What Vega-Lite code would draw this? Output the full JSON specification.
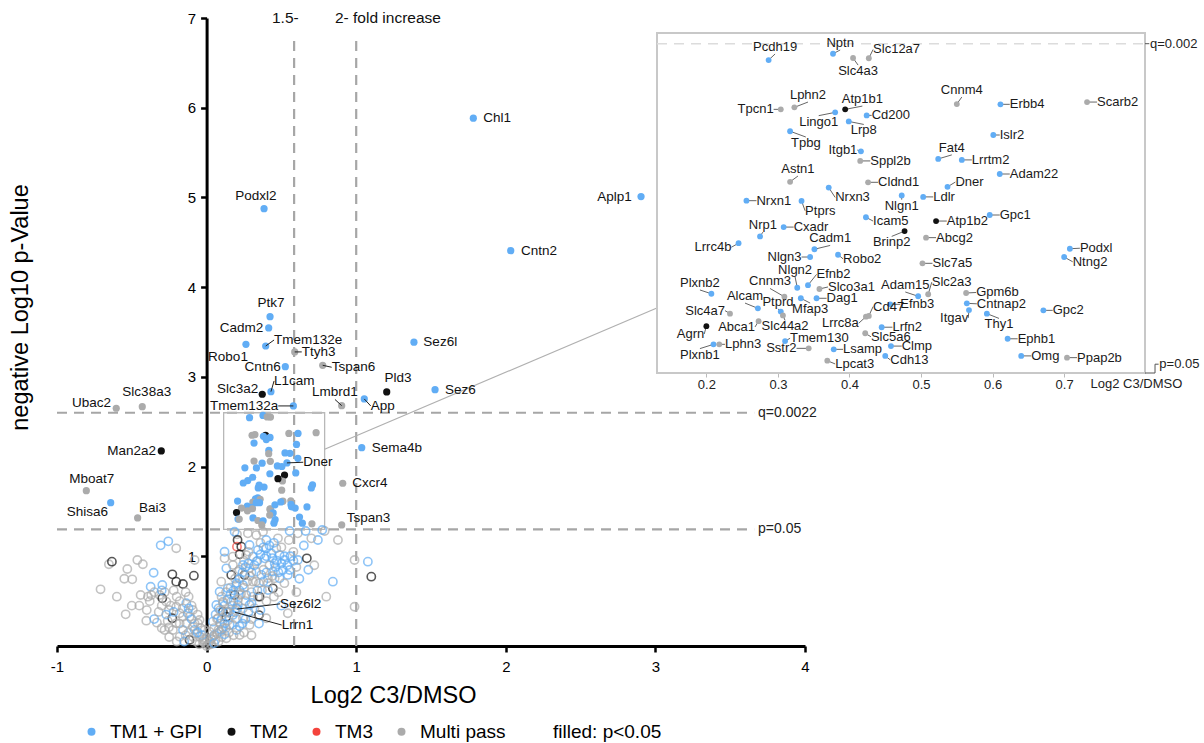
{
"$schema":"https://vega.github.io/schema/vega-lite/v6.json",
"autosize":"none","width":748,"height":628,
"padding":{"left":57,"top":18,"right":399,"bottom":97},
"background":"white",
"config":{"view":{"stroke":null},"font":"Liberation Sans","axis":{"grid":false}},
"datasets":{"genes":[
{"g":"Chl1","x":1.783,"y":5.883,"t":"TM1 + GPI","sig":true,"mlx":1.850,"mly":5.883},
{"g":"Aplp1","x":2.904,"y":5.009,"t":"TM1 + GPI","sig":true,"mlx":2.842,"mly":5.009},
{"g":"Podxl2","x":0.384,"y":4.875,"t":"TM1 + GPI","sig":true,"mlx":0.330,"mly":4.939},
{"g":"Cntn2","x":2.033,"y":4.407,"t":"TM1 + GPI","sig":true,"mlx":2.102,"mly":4.407},
{"g":"Ptk7","x":0.424,"y":3.671,"t":"TM1 + GPI","sig":true,"mlx":0.430,"mly":3.746},
{"g":"Cadm2","x":0.415,"y":3.545,"t":"TM1 + GPI","sig":true,"mlx":0.379,"mly":3.545},
{"g":"Sez6l","x":1.386,"y":3.386,"t":"TM1 + GPI","sig":true,"mlx":1.449,"mly":3.386},
{"g":"Robo1","x":0.263,"y":3.363,"t":"TM1 + GPI","sig":true,"mlx":0.143,"mly":3.294},
{"g":"Tmem132e","x":0.395,"y":3.344,"t":"TM1 + GPI","sig":true,"mlx":0.451,"mly":3.411},
{"g":"Ttyh3","x":0.589,"y":3.278,"t":"Multi pass","sig":true,"mlx":0.636,"mly":3.278},
{"g":"Cntn6","x":0.526,"y":3.114,"t":"TM1 + GPI","sig":true,"mlx":0.495,"mly":3.114},
{"g":"Tspan6","x":0.776,"y":3.129,"t":"Multi pass","sig":true,"mlx":0.836,"mly":3.107},
{"g":"Slc3a2","x":0.372,"y":2.806,"t":"TM2","sig":true,"mlx":0.346,"mly":2.862},
{"g":"L1cam","x":0.430,"y":2.835,"t":"TM1 + GPI","sig":true,"mlx":0.451,"mly":2.954},
{"g":"Tmem132a","x":0.580,"y":2.676,"t":"TM1 + GPI","sig":true,"mlx":0.479,"mly":2.676},
{"g":"Lmbrd1","x":0.903,"y":2.679,"t":"Multi pass","sig":true,"mlx":0.858,"mly":2.748},
{"g":"App","x":1.054,"y":2.754,"t":"TM1 + GPI","sig":true,"mlx":1.097,"mly":2.676},
{"g":"Pld3","x":1.204,"y":2.832,"t":"TM2","sig":true,"mlx":1.279,"mly":2.904},
{"g":"Sez6","x":1.527,"y":2.857,"t":"TM1 + GPI","sig":true,"mlx":1.594,"mly":2.857},
{"g":"Ubac2","x":-0.604,"y":2.650,"t":"Multi pass","sig":true,"mlx":-0.639,"mly":2.712},
{"g":"Slc38a3","x":-0.430,"y":2.668,"t":"Multi pass","sig":true,"mlx":-0.400,"mly":2.754},
{"g":"Sema4b","x":1.037,"y":2.211,"t":"TM1 + GPI","sig":true,"mlx":1.104,"mly":2.211},
{"g":"Man2a2","x":-0.303,"y":2.174,"t":"TM2","sig":true,"mlx":-0.338,"mly":2.174},
{"g":"Cxcr4","x":0.910,"y":1.814,"t":"Multi pass","sig":true,"mlx":0.974,"mly":1.814},
{"g":"Mboat7","x":-0.804,"y":1.731,"t":"Multi pass","sig":true,"mlx":-0.768,"mly":1.789},
{"g":"Shisa6","x":-0.641,"y":1.598,"t":"TM1 + GPI","sig":true,"mlx":-0.659,"mly":1.494},
{"g":"Bai3","x":-0.461,"y":1.427,"t":"Multi pass","sig":true,"mlx":-0.452,"mly":1.533},
{"g":"Tspan3","x":0.903,"y":1.349,"t":"Multi pass","sig":true,"mlx":0.937,"mly":1.424},
{"g":"Pcdh19","x":0.287,"y":2.545,"t":"TM1 + GPI","sig":true,"ilx":0.296,"ily":2.569},
{"g":"Nptn","x":0.377,"y":2.570,"t":"TM1 + GPI","sig":true,"ilx":0.387,"ily":2.585},
{"g":"Slc4a3","x":0.405,"y":2.553,"t":"Multi pass","sig":true,"ilx":0.412,"ily":2.525},
{"g":"Slc12a7","x":0.427,"y":2.552,"t":"Multi pass","sig":true,"ilx":0.433,"ily":2.587},
{"g":"Lphn2","x":0.323,"y":2.357,"t":"Multi pass","sig":true,"ilx":0.342,"ily":2.378},
{"g":"Tpcn1","x":0.304,"y":2.349,"t":"Multi pass","sig":true,"ilx":0.294,"ily":2.349},
{"g":"Atp1b1","x":0.394,"y":2.349,"t":"TM2","sig":true,"ilx":0.418,"ily":2.362},
{"g":"Lingo1","x":0.380,"y":2.337,"t":"TM1 + GPI","sig":true,"ilx":0.357,"ily":2.324},
{"g":"Cd200","x":0.424,"y":2.325,"t":"TM1 + GPI","sig":true,"ilx":0.431,"ily":2.325},
{"g":"Lrp8","x":0.399,"y":2.301,"t":"TM1 + GPI","sig":true,"ilx":0.420,"ily":2.289},
{"g":"Tpbg","x":0.317,"y":2.262,"t":"TM1 + GPI","sig":true,"ilx":0.339,"ily":2.239},
{"g":"Itgb1","x":0.416,"y":2.182,"t":"TM1 + GPI","sig":true,"ilx":0.411,"ily":2.187},
{"g":"Sppl2b","x":0.415,"y":2.144,"t":"Multi pass","sig":true,"ilx":0.429,"ily":2.144},
{"g":"Astn1","x":0.317,"y":2.061,"t":"Multi pass","sig":true,"ilx":0.328,"ily":2.084},
{"g":"Cldnd1","x":0.426,"y":2.059,"t":"Multi pass","sig":true,"ilx":0.440,"ily":2.059},
{"g":"Nrxn1","x":0.256,"y":1.986,"t":"TM1 + GPI","sig":true,"ilx":0.270,"ily":1.986},
{"g":"Nrxn3","x":0.371,"y":2.038,"t":"TM1 + GPI","sig":true,"ilx":0.380,"ily":1.999},
{"g":"Ptprs","x":0.333,"y":1.985,"t":"TM1 + GPI","sig":true,"ilx":0.338,"ily":1.946},
{"g":"Nlgn1","x":0.473,"y":2.007,"t":"TM1 + GPI","sig":true,"ilx":0.473,"ily":1.990},
{"g":"Ldlr","x":0.503,"y":2.001,"t":"TM1 + GPI","sig":true,"ilx":0.517,"ily":2.001},
{"g":"Icam5","x":0.423,"y":1.920,"t":"TM1 + GPI","sig":true,"ilx":0.433,"ily":1.905},
{"g":"Cnnm4","x":0.550,"y":2.370,"t":"Multi pass","sig":true,"ilx":0.557,"ily":2.398},
{"g":"Erbb4","x":0.611,"y":2.369,"t":"TM1 + GPI","sig":true,"ilx":0.624,"ily":2.369},
{"g":"Scarb2","x":0.732,"y":2.378,"t":"Multi pass","sig":true,"ilx":0.746,"ily":2.378},
{"g":"Islr2","x":0.601,"y":2.247,"t":"TM1 + GPI","sig":true,"ilx":0.610,"ily":2.247},
{"g":"Fat4","x":0.524,"y":2.152,"t":"TM1 + GPI","sig":true,"ilx":0.543,"ily":2.168},
{"g":"Lrrtm2","x":0.557,"y":2.148,"t":"TM1 + GPI","sig":true,"ilx":0.571,"ily":2.148},
{"g":"Adam22","x":0.610,"y":2.092,"t":"TM1 + GPI","sig":true,"ilx":0.624,"ily":2.092},
{"g":"Dner","x":0.537,"y":2.041,"t":"TM1 + GPI","sig":true,"ilx":0.548,"ily":2.060,"mlx":0.646,"mly":2.048},
{"g":"Gpc1","x":0.596,"y":1.929,"t":"TM1 + GPI","sig":true,"ilx":0.610,"ily":1.929},
{"g":"Atp1b2","x":0.521,"y":1.905,"t":"TM2","sig":true,"ilx":0.536,"ily":1.905},
{"g":"Abcg2","x":0.507,"y":1.839,"t":"Multi pass","sig":true,"ilx":0.521,"ily":1.839},
{"g":"Podxl","x":0.708,"y":1.795,"t":"TM1 + GPI","sig":true,"ilx":0.722,"ily":1.797},
{"g":"Ntng2","x":0.700,"y":1.762,"t":"TM1 + GPI","sig":true,"ilx":0.712,"ily":1.743},
{"g":"Slc7a5","x":0.502,"y":1.737,"t":"Multi pass","sig":true,"ilx":0.516,"ily":1.737},
{"g":"Slc2a3","x":0.510,"y":1.614,"t":"Multi pass","sig":true,"ilx":0.515,"ily":1.662},
{"g":"Gpm6b","x":0.563,"y":1.619,"t":"Multi pass","sig":true,"ilx":0.577,"ily":1.621},
{"g":"Cntnap2","x":0.564,"y":1.578,"t":"TM1 + GPI","sig":true,"ilx":0.578,"ily":1.576},
{"g":"Itgav","x":0.567,"y":1.551,"t":"TM1 + GPI","sig":true,"ilx":0.566,"ily":1.520},
{"g":"Thy1","x":0.592,"y":1.537,"t":"TM1 + GPI","sig":true,"ilx":0.609,"ily":1.518},
{"g":"Gpc2","x":0.671,"y":1.550,"t":"TM1 + GPI","sig":true,"ilx":0.684,"ily":1.550},
{"g":"Ephb1","x":0.621,"y":1.437,"t":"TM1 + GPI","sig":true,"ilx":0.635,"ily":1.437},
{"g":"Omg","x":0.640,"y":1.369,"t":"TM1 + GPI","sig":true,"ilx":0.654,"ily":1.369},
{"g":"Ppap2b","x":0.704,"y":1.362,"t":"Multi pass","sig":true,"ilx":0.718,"ily":1.362},
{"g":"Nrp1","x":0.275,"y":1.844,"t":"TM1 + GPI","sig":true,"ilx":0.279,"ily":1.861},
{"g":"Cxadr","x":0.308,"y":1.881,"t":"TM1 + GPI","sig":true,"ilx":0.322,"ily":1.881},
{"g":"Lrrc4b","x":0.245,"y":1.817,"t":"TM1 + GPI","sig":true,"ilx":0.235,"ily":1.801},
{"g":"Cadm1","x":0.351,"y":1.793,"t":"TM1 + GPI","sig":true,"ilx":0.373,"ily":1.808},
{"g":"Brinp2","x":0.477,"y":1.865,"t":"TM2","sig":true,"ilx":0.459,"ily":1.844},
{"g":"Robo2","x":0.384,"y":1.771,"t":"TM1 + GPI","sig":true,"ilx":0.391,"ily":1.755},
{"g":"Nlgn3","x":0.345,"y":1.762,"t":"TM1 + GPI","sig":true,"ilx":0.333,"ily":1.762},
{"g":"Nlgn2","x":0.327,"y":1.640,"t":"TM1 + GPI","sig":true,"ilx":0.324,"ily":1.683},
{"g":"Efnb2","x":0.342,"y":1.650,"t":"TM1 + GPI","sig":true,"ilx":0.354,"ily":1.693},
{"g":"Cnnm3","x":0.309,"y":1.604,"t":"Multi pass","sig":true,"ilx":0.289,"ily":1.637},
{"g":"Slco3a1","x":0.358,"y":1.635,"t":"Multi pass","sig":true,"ilx":0.370,"ily":1.643},
{"g":"Plxnb2","x":0.207,"y":1.616,"t":"TM1 + GPI","sig":true,"ilx":0.191,"ily":1.631},
{"g":"Alcam","x":0.272,"y":1.558,"t":"TM1 + GPI","sig":true,"ilx":0.254,"ily":1.579},
{"g":"Ptprd","x":0.304,"y":1.545,"t":"TM1 + GPI","sig":true,"ilx":0.300,"ily":1.556},
{"g":"Slc44a2","x":0.307,"y":1.530,"t":"Multi pass","sig":true,"ilx":0.310,"ily":1.510},
{"g":"Abca1","x":0.273,"y":1.507,"t":"Multi pass","sig":true,"ilx":0.268,"ily":1.484},
{"g":"Dag1","x":0.354,"y":1.598,"t":"TM1 + GPI","sig":true,"ilx":0.368,"ily":1.598},
{"g":"Mfap3","x":0.332,"y":1.598,"t":"TM1 + GPI","sig":true,"ilx":0.345,"ily":1.579},
{"g":"Slc4a7","x":0.233,"y":1.537,"t":"Multi pass","sig":true,"ilx":0.226,"ily":1.549},
{"g":"Agrn","x":0.200,"y":1.487,"t":"TM2","sig":true,"ilx":0.197,"ily":1.456},
{"g":"Lrrc8a","x":0.423,"y":1.525,"t":"Multi pass","sig":true,"ilx":0.413,"ily":1.499},
{"g":"Cd47","x":0.427,"y":1.528,"t":"Multi pass","sig":true,"ilx":0.433,"ily":1.565},
{"g":"Adam15","x":0.496,"y":1.606,"t":"TM1 + GPI","sig":true,"ilx":0.478,"ily":1.623},
{"g":"Efnb3","x":0.457,"y":1.574,"t":"TM1 + GPI","sig":true,"ilx":0.471,"ily":1.574},
{"g":"Lrfn2","x":0.445,"y":1.483,"t":"TM1 + GPI","sig":true,"ilx":0.460,"ily":1.483},
{"g":"Slc5a6","x":0.422,"y":1.459,"t":"Multi pass","sig":true,"ilx":0.430,"ily":1.445},
{"g":"Plxnb1","x":0.210,"y":1.415,"t":"TM1 + GPI","sig":true,"ilx":0.191,"ily":1.398},
{"g":"Lphn3","x":0.218,"y":1.415,"t":"Multi pass","sig":true,"ilx":0.226,"ily":1.415},
{"g":"Tmem130","x":0.310,"y":1.428,"t":"TM1 + GPI","sig":true,"ilx":0.317,"ily":1.439},
{"g":"Sstr2","x":0.343,"y":1.399,"t":"Multi pass","sig":true,"ilx":0.326,"ily":1.399},
{"g":"Lsamp","x":0.378,"y":1.395,"t":"TM1 + GPI","sig":true,"ilx":0.391,"ily":1.395},
{"g":"Clmp","x":0.458,"y":1.408,"t":"TM1 + GPI","sig":true,"ilx":0.473,"ily":1.408},
{"g":"Cdh13","x":0.450,"y":1.369,"t":"TM1 + GPI","sig":true,"ilx":0.457,"ily":1.353},
{"g":"Lpcat3","x":0.369,"y":1.350,"t":"Multi pass","sig":true,"ilx":0.380,"ily":1.337},
{"g":"Sez6l2","x":0.205,"y":0.412,"t":"TM1 + GPI","sig":false,"mlx":0.491,"mly":0.470},
{"g":"Lrrn1","x":0.190,"y":0.376,"t":"TM1 + GPI","sig":false,"mlx":0.502,"mly":0.234},
{"x":-0.307,"y":1.122,"t":"TM1 + GPI","sig":false},
{"x":-0.256,"y":1.167,"t":"TM1 + GPI","sig":false},
{"x":-0.203,"y":1.089,"t":"Multi pass","sig":false},
{"x":-0.463,"y":0.959,"t":"Multi pass","sig":false},
{"x":-0.426,"y":0.911,"t":"Multi pass","sig":false},
{"x":-0.653,"y":0.911,"t":"Multi pass","sig":false},
{"x":-0.633,"y":0.940,"t":"TM2","sig":false},
{"x":-0.530,"y":0.858,"t":"Multi pass","sig":false},
{"x":-0.354,"y":0.817,"t":"TM1 + GPI","sig":false},
{"x":-0.497,"y":0.743,"t":"Multi pass","sig":false},
{"x":-0.374,"y":0.661,"t":"TM1 + GPI","sig":false},
{"x":-0.296,"y":0.680,"t":"TM1 + GPI","sig":false},
{"x":-0.229,"y":0.799,"t":"TM2","sig":false},
{"x":-0.203,"y":0.717,"t":"TM2","sig":false},
{"x":-0.158,"y":0.691,"t":"TM2","sig":false},
{"x":-0.085,"y":0.784,"t":"TM2","sig":false},
{"x":-0.080,"y":0.959,"t":"Multi pass","sig":false},
{"x":-0.709,"y":0.632,"t":"Multi pass","sig":false},
{"x":-0.441,"y":0.569,"t":"Multi pass","sig":false},
{"x":-0.392,"y":0.550,"t":"Multi pass","sig":false},
{"x":-0.370,"y":0.569,"t":"Multi pass","sig":false},
{"x":-0.314,"y":0.569,"t":"Multi pass","sig":false},
{"x":-0.296,"y":0.532,"t":"TM2","sig":false},
{"x":-0.269,"y":0.494,"t":"Multi pass","sig":false},
{"x":-0.541,"y":0.353,"t":"Multi pass","sig":false},
{"x":-0.403,"y":0.282,"t":"Multi pass","sig":false},
{"x":-0.332,"y":0.260,"t":"Multi pass","sig":false},
{"x":-0.252,"y":0.401,"t":"Multi pass","sig":false},
{"x":-0.252,"y":0.208,"t":"Multi pass","sig":false},
{"x":-0.229,"y":0.309,"t":"TM2","sig":false},
{"x":-0.203,"y":0.253,"t":"Multi pass","sig":false},
{"x":-0.203,"y":0.438,"t":"Multi pass","sig":false},
{"x":-0.180,"y":0.365,"t":"Multi pass","sig":false},
{"x":-0.136,"y":0.476,"t":"TM1 + GPI","sig":false},
{"x":-0.125,"y":0.365,"t":"TM1 + GPI","sig":false},
{"x":-0.158,"y":0.327,"t":"Multi pass","sig":false},
{"x":-0.114,"y":0.327,"t":"Multi pass","sig":false},
{"x":-0.092,"y":0.401,"t":"Multi pass","sig":false},
{"x":-0.180,"y":0.104,"t":"Multi pass","sig":false},
{"x":-0.158,"y":0.178,"t":"TM1 + GPI","sig":false},
{"x":-0.114,"y":0.067,"t":"TM2","sig":false},
{"x":-0.092,"y":0.215,"t":"Multi pass","sig":false},
{"x":-0.069,"y":0.142,"t":"Multi pass","sig":false},
{"x":-0.058,"y":0.253,"t":"Multi pass","sig":false},
{"x":-0.047,"y":0.104,"t":"Multi pass","sig":false},
{"x":-0.025,"y":0.048,"t":"Multi pass","sig":false},
{"x":-0.136,"y":0.253,"t":"Multi pass","sig":false},
{"x":-0.225,"y":0.178,"t":"Multi pass","sig":false},
{"x":-0.281,"y":0.178,"t":"Multi pass","sig":false},
{"x":-0.047,"y":0.290,"t":"Multi pass","sig":false},
{"x":-0.013,"y":0.178,"t":"Multi pass","sig":false},
{"x":-0.35,"y":0.60,"t":"Multi pass","sig":false},
{"x":-0.30,"y":0.45,"t":"Multi pass","sig":false},
{"x":-0.27,"y":0.35,"t":"TM1 + GPI","sig":false},
{"x":-0.20,"y":0.55,"t":"Multi pass","sig":false},
{"x":-0.16,"y":0.42,"t":"Multi pass","sig":false},
{"x":-0.12,"y":0.55,"t":"Multi pass","sig":false},
{"x":-0.10,"y":0.30,"t":"TM1 + GPI","sig":false},
{"x":-0.08,"y":0.18,"t":"TM1 + GPI","sig":false},
{"x":-0.06,"y":0.35,"t":"Multi pass","sig":false},
{"x":-0.04,"y":0.20,"t":"Multi pass","sig":false},
{"x":-0.03,"y":0.12,"t":"TM1 + GPI","sig":false},
{"x":-0.02,"y":0.07,"t":"Multi pass","sig":false},
{"x":-0.01,"y":0.03,"t":"Multi pass","sig":false},
{"x":-0.40,"y":0.40,"t":"Multi pass","sig":false},
{"x":-0.45,"y":0.45,"t":"Multi pass","sig":false},
{"x":-0.35,"y":0.30,"t":"TM1 + GPI","sig":false},
{"x":-0.30,"y":0.20,"t":"Multi pass","sig":false},
{"x":-0.25,"y":0.10,"t":"Multi pass","sig":false},
{"x":-0.20,"y":0.05,"t":"Multi pass","sig":false},
{"x":-0.15,"y":0.05,"t":"TM1 + GPI","sig":false},
{"x":-0.12,"y":0.15,"t":"Multi pass","sig":false},
{"x":-0.09,"y":0.10,"t":"Multi pass","sig":false},
{"x":-0.07,"y":0.05,"t":"Multi pass","sig":false},
{"x":-0.05,"y":0.02,"t":"Multi pass","sig":false},
{"x":-0.60,"y":0.55,"t":"Multi pass","sig":false},
{"x":-0.55,"y":0.75,"t":"Multi pass","sig":false},
{"x":-0.50,"y":0.45,"t":"Multi pass","sig":false},
{"x":-0.28,"y":0.60,"t":"Multi pass","sig":false},
{"x":-0.24,"y":0.45,"t":"Multi pass","sig":false},
{"x":-0.22,"y":0.62,"t":"Multi pass","sig":false},
{"x":-0.18,"y":0.50,"t":"Multi pass","sig":false},
{"x":-0.14,"y":0.60,"t":"Multi pass","sig":false},
{"x":-0.10,"y":0.45,"t":"Multi pass","sig":false},
{"x":-0.18,"y":0.25,"t":"Multi pass","sig":false},
{"x":-0.14,"y":0.12,"t":"Multi pass","sig":false},
{"x":-0.08,"y":0.25,"t":"Multi pass","sig":false},
{"x":-0.32,"y":0.38,"t":"Multi pass","sig":false},
{"x":-0.38,"y":0.50,"t":"Multi pass","sig":false},
{"x":-0.26,"y":0.28,"t":"Multi pass","sig":false},
{"x":-0.22,"y":0.38,"t":"TM1 + GPI","sig":false},
{"x":-0.12,"y":0.42,"t":"TM1 + GPI","sig":false},
{"x":-0.06,"y":0.15,"t":"TM1 + GPI","sig":false},
{"x":-0.30,"y":0.62,"t":"TM1 + GPI","sig":false},
{"x":0.203,"y":1.245,"t":"Multi pass","sig":false},
{"x":0.276,"y":1.256,"t":"Multi pass","sig":false},
{"x":0.332,"y":1.237,"t":"Multi pass","sig":false},
{"x":0.377,"y":1.274,"t":"Multi pass","sig":false},
{"x":0.187,"y":1.274,"t":"TM1 + GPI","sig":false},
{"x":0.399,"y":1.182,"t":"TM1 + GPI","sig":false},
{"x":0.477,"y":1.200,"t":"Multi pass","sig":false},
{"x":0.555,"y":1.282,"t":"TM1 + GPI","sig":false},
{"x":0.610,"y":1.256,"t":"Multi pass","sig":false},
{"x":0.662,"y":1.282,"t":"TM1 + GPI","sig":false},
{"x":0.789,"y":1.282,"t":"Multi pass","sig":false},
{"x":0.744,"y":1.182,"t":"TM1 + GPI","sig":false},
{"x":0.878,"y":1.182,"t":"Multi pass","sig":false},
{"x":0.773,"y":1.293,"t":"TM1 + GPI","sig":false},
{"x":0.207,"y":1.182,"t":"TM2","sig":false},
{"x":0.203,"y":1.107,"t":"TM3","sig":false},
{"x":0.232,"y":1.107,"t":"TM2","sig":false},
{"x":0.221,"y":1.022,"t":"TM2","sig":false},
{"x":0.287,"y":1.126,"t":"TM1 + GPI","sig":false},
{"x":0.343,"y":1.070,"t":"TM1 + GPI","sig":false},
{"x":0.399,"y":1.089,"t":"TM1 + GPI","sig":false},
{"x":0.466,"y":1.089,"t":"Multi pass","sig":false},
{"x":0.432,"y":1.033,"t":"TM1 + GPI","sig":false},
{"x":0.488,"y":1.014,"t":"TM1 + GPI","sig":false},
{"x":0.521,"y":0.959,"t":"TM1 + GPI","sig":false},
{"x":0.610,"y":0.959,"t":"TM1 + GPI","sig":false},
{"x":0.670,"y":0.977,"t":"TM2","sig":false},
{"x":0.989,"y":0.959,"t":"Multi pass","sig":false},
{"x":1.078,"y":0.940,"t":"TM1 + GPI","sig":false},
{"x":1.101,"y":0.773,"t":"TM2","sig":false},
{"x":0.844,"y":0.717,"t":"TM1 + GPI","sig":false},
{"x":0.989,"y":0.438,"t":"Multi pass","sig":false},
{"x":0.800,"y":0.550,"t":"Multi pass","sig":false},
{"x":0.543,"y":0.365,"t":"Multi pass","sig":false},
{"x":0.510,"y":0.847,"t":"TM1 + GPI","sig":false},
{"x":0.455,"y":0.755,"t":"Multi pass","sig":false},
{"x":0.488,"y":0.755,"t":"TM1 + GPI","sig":false},
{"x":0.410,"y":0.755,"t":"Multi pass","sig":false},
{"x":0.555,"y":0.847,"t":"TM1 + GPI","sig":false},
{"x":0.443,"y":0.643,"t":"TM2","sig":false},
{"x":0.410,"y":0.624,"t":"TM1 + GPI","sig":false},
{"x":0.343,"y":0.550,"t":"Multi pass","sig":false},
{"x":0.310,"y":0.550,"t":"Multi pass","sig":false},
{"x":0.354,"y":0.550,"t":"TM2","sig":false},
{"x":0.350,"y":0.345,"t":"TM2","sig":false},
{"x":0.221,"y":0.123,"t":"Multi pass","sig":false},
{"x":0.176,"y":0.234,"t":"Multi pass","sig":false},
{"x":0.199,"y":0.178,"t":"TM1 + GPI","sig":false},
{"x":0.287,"y":0.234,"t":"Multi pass","sig":false},
{"x":0.399,"y":0.309,"t":"Multi pass","sig":false},
{"x":0.243,"y":0.420,"t":"Multi pass","sig":false},
{"x":0.287,"y":0.457,"t":"TM1 + GPI","sig":false},
{"x":0.109,"y":0.382,"t":"TM2","sig":false},
{"x":0.132,"y":0.327,"t":"TM2","sig":false},
{"x":0.165,"y":0.792,"t":"TM2","sig":false},
{"x":0.187,"y":0.569,"t":"TM2","sig":false},
{"x":0.254,"y":0.792,"t":"TM2","sig":false},
{"x":0.120,"y":0.977,"t":"Multi pass","sig":false},
{"x":0.132,"y":0.866,"t":"TM1 + GPI","sig":false},
{"x":0.176,"y":0.903,"t":"Multi pass","sig":false},
{"x":0.209,"y":0.829,"t":"Multi pass","sig":false},
{"x":0.243,"y":0.903,"t":"TM1 + GPI","sig":false},
{"x":0.287,"y":0.866,"t":"Multi pass","sig":false},
{"x":0.332,"y":0.829,"t":"Multi pass","sig":false},
{"x":0.366,"y":0.792,"t":"TM1 + GPI","sig":false},
{"x":0.310,"y":0.717,"t":"Multi pass","sig":false},
{"x":0.243,"y":0.680,"t":"TM1 + GPI","sig":false},
{"x":0.199,"y":0.680,"t":"Multi pass","sig":false},
{"x":0.142,"y":0.643,"t":"TM1 + GPI","sig":false},
{"x":0.098,"y":0.717,"t":"Multi pass","sig":false},
{"x":0.087,"y":0.605,"t":"TM1 + GPI","sig":false},
{"x":0.221,"y":0.569,"t":"Multi pass","sig":false},
{"x":0.265,"y":0.569,"t":"TM1 + GPI","sig":false},
{"x":0.165,"y":0.494,"t":"Multi pass","sig":false},
{"x":0.209,"y":0.457,"t":"TM1 + GPI","sig":false},
{"x":0.109,"y":0.494,"t":"Multi pass","sig":false},
{"x":0.065,"y":0.457,"t":"TM1 + GPI","sig":false},
{"x":0.076,"y":0.309,"t":"Multi pass","sig":false},
{"x":0.042,"y":0.271,"t":"TM1 + GPI","sig":false},
{"x":0.142,"y":0.382,"t":"Multi pass","sig":false},
{"x":0.176,"y":0.345,"t":"TM1 + GPI","sig":false},
{"x":0.243,"y":0.309,"t":"Multi pass","sig":false},
{"x":0.154,"y":0.234,"t":"TM1 + GPI","sig":false},
{"x":0.087,"y":0.159,"t":"Multi pass","sig":false},
{"x":0.020,"y":0.159,"t":"Multi pass","sig":false},
{"x":-0.002,"y":0.086,"t":"Multi pass","sig":false},
{"x":0.053,"y":0.123,"t":"TM1 + GPI","sig":false},
{"x":0.132,"y":0.086,"t":"Multi pass","sig":false},
{"x":0.332,"y":0.940,"t":"Multi pass","sig":false},
{"x":0.455,"y":0.922,"t":"TM1 + GPI","sig":false},
{"x":0.443,"y":0.829,"t":"TM1 + GPI","sig":false},
{"x":0.543,"y":0.792,"t":"TM1 + GPI","sig":false},
{"x":0.310,"y":0.996,"t":"TM1 + GPI","sig":false},
{"x":0.265,"y":1.014,"t":"Multi pass","sig":false},
{"x":0.388,"y":0.977,"t":"TM1 + GPI","sig":false},
{"x":0.176,"y":0.996,"t":"Multi pass","sig":false},
{"x":0.120,"y":1.051,"t":"TM1 + GPI","sig":false},
{"x":0.02,"y":0.05,"t":"Multi pass","sig":false},
{"x":0.04,"y":0.10,"t":"Multi pass","sig":false},
{"x":0.06,"y":0.07,"t":"Multi pass","sig":false},
{"x":0.01,"y":0.01,"t":"Multi pass","sig":false},
{"x":0.03,"y":0.02,"t":"Multi pass","sig":false},
{"x":0.00,"y":0.00,"t":"Multi pass","sig":false},
{"x":0.05,"y":0.03,"t":"TM1 + GPI","sig":false},
{"x":0.08,"y":0.05,"t":"Multi pass","sig":false},
{"x":0.10,"y":0.10,"t":"Multi pass","sig":false},
{"x":0.07,"y":0.14,"t":"Multi pass","sig":false},
{"x":0.11,"y":0.20,"t":"Multi pass","sig":false},
{"x":0.09,"y":0.25,"t":"Multi pass","sig":false},
{"x":0.12,"y":0.13,"t":"TM1 + GPI","sig":false},
{"x":0.15,"y":0.15,"t":"Multi pass","sig":false},
{"x":0.18,"y":0.12,"t":"Multi pass","sig":false},
{"x":0.14,"y":0.28,"t":"Multi pass","sig":false},
{"x":0.10,"y":0.55,"t":"Multi pass","sig":false},
{"x":0.13,"y":0.60,"t":"Multi pass","sig":false},
{"x":0.16,"y":0.65,"t":"Multi pass","sig":false},
{"x":0.19,"y":0.75,"t":"Multi pass","sig":false},
{"x":0.22,"y":0.85,"t":"Multi pass","sig":false},
{"x":0.25,"y":0.95,"t":"Multi pass","sig":false},
{"x":0.28,"y":1.05,"t":"Multi pass","sig":false},
{"x":0.30,"y":0.60,"t":"Multi pass","sig":false},
{"x":0.35,"y":0.70,"t":"Multi pass","sig":false},
{"x":0.38,"y":0.85,"t":"Multi pass","sig":false},
{"x":0.42,"y":0.90,"t":"Multi pass","sig":false},
{"x":0.47,"y":0.95,"t":"TM1 + GPI","sig":false},
{"x":0.52,"y":0.70,"t":"Multi pass","sig":false},
{"x":0.60,"y":0.88,"t":"Multi pass","sig":false},
{"x":0.62,"y":0.75,"t":"TM1 + GPI","sig":false},
{"x":0.68,"y":0.85,"t":"TM1 + GPI","sig":false},
{"x":0.72,"y":0.90,"t":"Multi pass","sig":false},
{"x":0.58,"y":1.05,"t":"Multi pass","sig":false},
{"x":0.65,"y":1.12,"t":"TM1 + GPI","sig":false},
{"x":0.70,"y":1.20,"t":"Multi pass","sig":false},
{"x":0.50,"y":1.10,"t":"Multi pass","sig":false},
{"x":0.45,"y":1.15,"t":"TM1 + GPI","sig":false},
{"x":0.55,"y":1.18,"t":"Multi pass","sig":false},
{"x":0.36,"y":1.15,"t":"Multi pass","sig":false},
{"x":0.26,"y":0.50,"t":"Multi pass","sig":false},
{"x":0.32,"y":0.42,"t":"Multi pass","sig":false},
{"x":0.30,"y":0.30,"t":"Multi pass","sig":false},
{"x":0.36,"y":0.40,"t":"TM1 + GPI","sig":false},
{"x":0.40,"y":0.50,"t":"Multi pass","sig":false},
{"x":0.45,"y":0.55,"t":"Multi pass","sig":false},
{"x":0.50,"y":0.45,"t":"TM1 + GPI","sig":false},
{"x":0.60,"y":0.60,"t":"Multi pass","sig":false},
{"x":0.20,"y":0.30,"t":"Multi pass","sig":false},
{"x":0.22,"y":0.22,"t":"TM1 + GPI","sig":false},
{"x":0.25,"y":0.15,"t":"Multi pass","sig":false},
{"x":0.30,"y":0.12,"t":"Multi pass","sig":false},
{"x":0.35,"y":0.25,"t":"TM1 + GPI","sig":false},
{"x":0.06,"y":0.35,"t":"TM1 + GPI","sig":false},
{"x":0.08,"y":0.42,"t":"TM1 + GPI","sig":false},
{"x":0.10,"y":0.30,"t":"TM1 + GPI","sig":false},
{"x":0.12,"y":0.45,"t":"TM1 + GPI","sig":false},
{"x":0.14,"y":0.52,"t":"TM1 + GPI","sig":false},
{"x":0.16,"y":0.58,"t":"TM1 + GPI","sig":false},
{"x":0.18,"y":0.62,"t":"TM1 + GPI","sig":false},
{"x":0.20,"y":0.70,"t":"TM1 + GPI","sig":false},
{"x":0.22,"y":0.75,"t":"TM1 + GPI","sig":false},
{"x":0.24,"y":0.82,"t":"TM1 + GPI","sig":false},
{"x":0.26,"y":0.88,"t":"TM1 + GPI","sig":false},
{"x":0.28,"y":0.92,"t":"TM1 + GPI","sig":false},
{"x":0.30,"y":0.82,"t":"TM1 + GPI","sig":false},
{"x":0.32,"y":0.90,"t":"TM1 + GPI","sig":false},
{"x":0.34,"y":0.95,"t":"TM1 + GPI","sig":false},
{"x":0.36,"y":1.02,"t":"TM1 + GPI","sig":false},
{"x":0.38,"y":1.10,"t":"TM1 + GPI","sig":false},
{"x":0.40,"y":1.00,"t":"TM1 + GPI","sig":false},
{"x":0.42,"y":1.12,"t":"TM1 + GPI","sig":false},
{"x":0.44,"y":0.98,"t":"TM1 + GPI","sig":false},
{"x":0.46,"y":0.88,"t":"TM1 + GPI","sig":false},
{"x":0.48,"y":0.82,"t":"TM1 + GPI","sig":false},
{"x":0.50,"y":0.92,"t":"TM1 + GPI","sig":false},
{"x":0.52,"y":1.00,"t":"TM1 + GPI","sig":false},
{"x":0.54,"y":0.90,"t":"TM1 + GPI","sig":false},
{"x":0.56,"y":1.00,"t":"TM1 + GPI","sig":false},
{"x":0.58,"y":0.95,"t":"TM1 + GPI","sig":false},
{"x":0.30,"y":0.48,"t":"TM1 + GPI","sig":false},
{"x":0.28,"y":0.38,"t":"TM1 + GPI","sig":false},
{"x":0.26,"y":0.30,"t":"TM1 + GPI","sig":false},
{"x":0.24,"y":0.25,"t":"TM1 + GPI","sig":false},
{"x":0.20,"y":0.42,"t":"TM1 + GPI","sig":false},
{"x":0.18,"y":0.50,"t":"TM1 + GPI","sig":false},
{"x":0.22,"y":0.62,"t":"TM1 + GPI","sig":false},
{"x":0.34,"y":0.62,"t":"TM1 + GPI","sig":false},
{"x":0.38,"y":0.72,"t":"TM1 + GPI","sig":false},
{"x":0.40,"y":0.82,"t":"TM1 + GPI","sig":false},
{"x":0.15,"y":0.38,"t":"TM1 + GPI","sig":false},
{"x":0.12,"y":0.25,"t":"TM1 + GPI","sig":false},
{"x":0.10,"y":0.18,"t":"TM1 + GPI","sig":false},
{"x":0.07,"y":0.30,"t":"Multi pass","sig":false},
{"x":0.09,"y":0.40,"t":"Multi pass","sig":false},
{"x":0.11,"y":0.48,"t":"Multi pass","sig":false},
{"x":0.13,"y":0.38,"t":"Multi pass","sig":false},
{"x":0.17,"y":0.45,"t":"Multi pass","sig":false},
{"x":0.19,"y":0.40,"t":"Multi pass","sig":false},
{"x":0.21,"y":0.52,"t":"Multi pass","sig":false},
{"x":0.23,"y":0.58,"t":"Multi pass","sig":false},
{"x":0.25,"y":0.65,"t":"Multi pass","sig":false},
{"x":0.27,"y":0.72,"t":"Multi pass","sig":false},
{"x":0.29,"y":0.78,"t":"Multi pass","sig":false},
{"x":0.33,"y":0.72,"t":"Multi pass","sig":false},
{"x":0.37,"y":0.62,"t":"Multi pass","sig":false},
{"x":0.41,"y":0.70,"t":"Multi pass","sig":false},
{"x":0.44,"y":0.78,"t":"Multi pass","sig":false},
{"x":0.48,"y":0.60,"t":"Multi pass","sig":false},
{"x":0.05,"y":0.20,"t":"Multi pass","sig":false},
{"x":0.03,"y":0.08,"t":"Multi pass","sig":false},
{"x":0.08,"y":0.18,"t":"Multi pass","sig":false},
{"x":0.13,"y":0.20,"t":"Multi pass","sig":false}
]},
"layer":[
 {"data":{"values":[{"v":0.585,"lo":0,"hi":6.8},{"v":1,"lo":0,"hi":6.8}]},
  "mark":{"type":"rule","color":"#a6a6a6","strokeWidth":2.2,"strokeDash":[10,7]},
  "encoding":{
   "x":{"field":"v","type":"quantitative","scale":{"domain":[-1,4]},
        "axis":{"orient":"bottom","values":[-1,0,1,2,3,4],"labelExpr":"replace(datum.label, '\u2212', '-')","domainColor":"#000","domainWidth":3,"tickColor":"#000","tickWidth":2.5,"tickSize":6,"labelFontSize":15,"labelColor":"#000","labelPadding":7,"labelFlush":false,"title":"Log2 C3/DMSO","titleFontSize":23.5,"titleFontWeight":"normal","titleColor":"#000","titleX":336,"titleY":49,"titleAlign":"center","titleBaseline":"middle","grid":false}},
   "y":{"field":"lo","type":"quantitative","scale":{"domain":[0,7]},
        "axis":{"orient":"left","values":[1,2,3,4,5,6,7],"offset":-149.6,"domainColor":"#000","domainWidth":3,"tickColor":"#000","tickWidth":2.5,"tickSize":6,"labelFontSize":15,"labelColor":"#000","labelPadding":5,"title":"negative Log10 p-Value","titleFontSize":23.5,"titleFontWeight":"normal","titleColor":"#000","titleX":-186.6,"titleY":289,"titleAngle":-90,"titleAlign":"center","titleBaseline":"middle","grid":false}},
   "y2":{"field":"hi"}}},
 {"data":{"values":[{"h":2.60,"a":-1,"b":3.66},{"h":1.301,"a":-1,"b":3.66}]},
  "mark":{"type":"rule","color":"#a6a6a6","strokeWidth":2.2,"strokeDash":[10,7]},
  "encoding":{"x":{"field":"a","type":"quantitative","scale":{"domain":[-1,4]},"axis":null},"x2":{"field":"b"},
   "y":{"field":"h","type":"quantitative","scale":{"domain":[0,7]},"axis":null}}},
 {"data":{"values":[{"a":0.114,"b":0.789,"lo":1.301,"hi":2.60}]},
  "mark":{"type":"rect","fill":"transparent","stroke":"#b8b8b8","strokeWidth":1.3},
  "encoding":{"x":{"field":"a","type":"quantitative","scale":{"domain":[-1,4]},"axis":null},"x2":{"field":"b"},
   "y":{"field":"lo","type":"quantitative","scale":{"domain":[0,7]},"axis":null},"y2":{"field":"hi"}}},
 {"data":{"values":[{"a":0.789,"ay":2.193,"b":3.006,"by":3.765}]},
  "mark":{"type":"rule","color":"#b0b0b0","strokeWidth":1.2},
  "encoding":{"x":{"field":"a","type":"quantitative","scale":{"domain":[-1,4]},"axis":null},"x2":{"field":"b"},
   "y":{"field":"ay","type":"quantitative","scale":{"domain":[0,7]},"axis":null},"y2":{"field":"by"}}},
 {"data":{"values":[{"x":0.437,"y":7,"s":"1.5-"},{"x":0.858,"y":7,"s":"2- fold increase"}]},
  "mark":{"type":"text","align":"left","baseline":"middle","fontSize":15.5,"color":"#111"},
  "encoding":{"x":{"field":"x","type":"quantitative","scale":{"domain":[-1,4]},"axis":null},
   "y":{"field":"y","type":"quantitative","scale":{"domain":[0,7]},"axis":null},"text":{"field":"s"}}},
 {"data":{"values":[{"x":3.686,"y":2.60,"s":"q=0.0022"},{"x":3.686,"y":1.301,"s":"p=0.05"}]},
  "mark":{"type":"text","align":"left","baseline":"middle","fontSize":14,"color":"#222"},
  "encoding":{"x":{"field":"x","type":"quantitative","scale":{"domain":[-1,4]},"axis":null},
   "y":{"field":"y","type":"quantitative","scale":{"domain":[0,7]},"axis":null},"text":{"field":"s"}}},
 {"data":{"name":"genes"},"transform":[{"filter":"datum.sig"}],
  "mark":{"type":"point","shape":"circle","filled":true,"size":52,"opacity":1},
  "encoding":{"x":{"field":"x","type":"quantitative","scale":{"domain":[-1,4]},"axis":null},
   "y":{"field":"y","type":"quantitative","scale":{"domain":[0,7]},"axis":null},
   "color":{"field":"t","type":"nominal","scale":{"domain":["TM1 + GPI","TM2","TM3","Multi pass","filled: p<0.05"],"range":["#61adf5","#111111","#f4433c","#ababab","rgba(0,0,0,0)"]},
     "legend":{"orient":"none","legendX":25,"legendY":704,"direction":"horizontal","columns":5,"title":null,"symbolType":"circle","symbolSize":64,"symbolStrokeWidth":0,"labelFontSize":19,"labelColor":"#000","labelOffset":9,"columnPadding":19}}}},
 {"data":{"name":"genes"},"transform":[{"filter":"!datum.sig"}],
  "mark":{"type":"point","shape":"circle","filled":false,"size":68,"strokeWidth":1.6},
  "encoding":{"x":{"field":"x","type":"quantitative","scale":{"domain":[-1,4]},"axis":null},
   "y":{"field":"y","type":"quantitative","scale":{"domain":[0,7]},"axis":null},
   "color":{"field":"t","type":"nominal","scale":{"domain":["TM1 + GPI","TM2","TM3","Multi pass","filled: p<0.05"],"range":["#61adf5","#111111","#f4433c","#ababab","rgba(0,0,0,0)"]},"legend":null}}},
 {"data":{"name":"genes"},"transform":[{"filter":"indexof(['Tmem132e','Ttyh3','Tspan6','L1cam','Tmem132a','Lmbrd1','App','Dner','Sez6l2','Lrrn1'], datum.g) >= 0"}],
  "mark":{"type":"rule","color":"#222","strokeWidth":1},
  "encoding":{"x":{"field":"x","type":"quantitative","scale":{"domain":[-1,4]},"axis":null},"x2":{"field":"mlx"},
   "y":{"field":"y","type":"quantitative","scale":{"domain":[0,7]},"axis":null},"y2":{"field":"mly"}}},
 {"data":{"name":"genes"},"transform":[{"filter":"isValid(datum.mlx) && indexof(['Aplp1','Cadm2','Cntn6','Slc3a2','Tmem132a','Ubac2','Man2a2','Shisa6','Podxl2','Ptk7','Lmbrd1','Pld3','Slc38a3','Mboat7','Robo1'], datum.g) < 0"}],
  "mark":{"type":"text","align":"left","baseline":"middle","fontSize":13.5,"color":"#111"},
  "encoding":{"x":{"field":"mlx","type":"quantitative","scale":{"domain":[-1,4]},"axis":null},
   "y":{"field":"mly","type":"quantitative","scale":{"domain":[0,7]},"axis":null},"text":{"field":"g"}}},
 {"data":{"name":"genes"},"transform":[{"filter":"indexof(['Aplp1','Cadm2','Cntn6','Slc3a2','Tmem132a','Ubac2','Man2a2','Shisa6'], datum.g) >= 0"}],
  "mark":{"type":"text","align":"right","baseline":"middle","fontSize":13.5,"color":"#111"},
  "encoding":{"x":{"field":"mlx","type":"quantitative","scale":{"domain":[-1,4]},"axis":null},
   "y":{"field":"mly","type":"quantitative","scale":{"domain":[0,7]},"axis":null},"text":{"field":"g"}}},
 {"data":{"name":"genes"},"transform":[{"filter":"indexof(['Podxl2','Ptk7','Lmbrd1','Pld3','Slc38a3','Mboat7'], datum.g) >= 0"}],
  "mark":{"type":"text","align":"center","baseline":"bottom","fontSize":13.5,"color":"#111"},
  "encoding":{"x":{"field":"mlx","type":"quantitative","scale":{"domain":[-1,4]},"axis":null},
   "y":{"field":"mly","type":"quantitative","scale":{"domain":[0,7]},"axis":null},"text":{"field":"g"}}},
 {"data":{"name":"genes"},"transform":[{"filter":"datum.g === 'Robo1'"}],
  "mark":{"type":"text","align":"center","baseline":"top","fontSize":13.5,"color":"#111"},
  "encoding":{"x":{"field":"mlx","type":"quantitative","scale":{"domain":[-1,4]},"axis":null},
   "y":{"field":"mly","type":"quantitative","scale":{"domain":[0,7]},"axis":null},"text":{"field":"g"}}},
 {"data":{"values":[{"a":0.131,"b":0.813,"lo":1.301,"hi":2.6525}]},
  "mark":{"type":"rect","fill":"white","stroke":"#c8c8c8","strokeWidth":2},
  "encoding":{"x":{"field":"a","type":"quantitative","scale":{"domain":[0.131,0.813],"range":[600,1088]},
     "axis":{"orient":"bottom","offset":-273,"values":[0.2,0.3,0.4,0.5,0.6,0.7],"format":".1f","domain":false,"tickColor":"#bbbbbb","tickSize":4,"tickWidth":1,"labelFontSize":13,"labelColor":"#222","labelPadding":1,"labelFlush":false,"title":"Log2 C3/DMSO","titleFontSize":13,"titleFontWeight":"normal","titleColor":"#222","titleX":1033,"titleY":10,"titleAlign":"left","titleBaseline":"middle","grid":false}},
   "x2":{"field":"b"},
   "y":{"field":"lo","type":"quantitative","scale":{"domain":[1.301,2.6525],"range":[355,15]},"axis":null},"y2":{"field":"hi"}}},
 {"data":{"values":[{"a":0.131,"b":0.813,"h":2.61}]},
  "mark":{"type":"rule","color":"#dcdcdc","strokeWidth":1.5,"strokeDash":[10,7]},
  "encoding":{"x":{"field":"a","type":"quantitative","scale":{"domain":[0.131,0.813],"range":[600,1088]},"axis":null},"x2":{"field":"b"},
   "y":{"field":"h","type":"quantitative","scale":{"domain":[1.301,2.6525],"range":[355,15]},"axis":null}}},
 {"data":{"values":[{"a":0.813,"ay":2.61,"b":0.819,"by":2.61},{"a":0.813,"ay":1.301,"b":0.827,"by":1.301},{"a":0.827,"ay":1.301,"b":0.827,"by":1.336},{"a":0.827,"ay":1.336,"b":0.832,"by":1.336}]},
  "mark":{"type":"rule","color":"#555","strokeWidth":1},
  "encoding":{"x":{"field":"a","type":"quantitative","scale":{"domain":[0.131,0.813],"range":[600,1088]},"axis":null},"x2":{"field":"b"},
   "y":{"field":"ay","type":"quantitative","scale":{"domain":[1.301,2.6525],"range":[355,15]},"axis":null},"y2":{"field":"by"}}},
 {"data":{"values":[{"x":0.820,"y":2.61,"s":"q=0.002"},{"x":0.833,"y":1.336,"s":"p=0.05"}]},
  "mark":{"type":"text","align":"left","baseline":"middle","fontSize":13,"color":"#222"},
  "encoding":{"x":{"field":"x","type":"quantitative","scale":{"domain":[0.131,0.813],"range":[600,1088]},"axis":null},
   "y":{"field":"y","type":"quantitative","scale":{"domain":[1.301,2.6525],"range":[355,15]},"axis":null},"text":{"field":"s"}}},
 {"data":{"name":"genes"},"transform":[{"filter":"isValid(datum.ilx)"}],
  "mark":{"type":"rule","color":"#666","strokeWidth":1},
  "encoding":{"x":{"field":"x","type":"quantitative","scale":{"domain":[0.131,0.813],"range":[600,1088]},"axis":null},"x2":{"field":"ilx"},
   "y":{"field":"y","type":"quantitative","scale":{"domain":[1.301,2.6525],"range":[355,15]},"axis":null},"y2":{"field":"ily"}}},
 {"data":{"name":"genes"},"transform":[{"filter":"isValid(datum.ilx)"}],
  "mark":{"type":"point","shape":"circle","filled":true,"size":34,"opacity":1},
  "encoding":{"x":{"field":"x","type":"quantitative","scale":{"domain":[0.131,0.813],"range":[600,1088]},"axis":null},
   "y":{"field":"y","type":"quantitative","scale":{"domain":[1.301,2.6525],"range":[355,15]},"axis":null},
   "color":{"field":"t","type":"nominal","scale":{"domain":["TM1 + GPI","TM2","TM3","Multi pass","filled: p<0.05"],"range":["#61adf5","#111111","#f4433c","#ababab","rgba(0,0,0,0)"]},"legend":null}}},
 {"data":{"name":"genes"},"transform":[{"filter":"isValid(datum.ilx) && indexof(['Tpcn1','Itgb1','Lrrc4b','Nlgn3','Abca1','Slc4a7','Agrn','Lrrc8a','Sstr2','Itgav','Pcdh19','Nptn','Lphn2','Atp1b1','Astn1','Cnnm4','Fat4','Nrp1','Cadm1','Nlgn2','Cnnm3','Plxnb2','Alcam','Ptprd','Adam15','Slc4a3','Lingo1','Lrp8','Tpbg','Nlgn1','Thy1','Brinp2','Slc44a2','Mfap3','Plxnb1'], datum.g) < 0"}],
  "mark":{"type":"text","align":"left","baseline":"middle","fontSize":13,"color":"#1a1a1a"},
  "encoding":{"x":{"field":"ilx","type":"quantitative","scale":{"domain":[0.131,0.813],"range":[600,1088]},"axis":null},
   "y":{"field":"ily","type":"quantitative","scale":{"domain":[1.301,2.6525],"range":[355,15]},"axis":null},"text":{"field":"g"}}},
 {"data":{"name":"genes"},"transform":[{"filter":"isValid(datum.ilx) && indexof(['Tpcn1','Itgb1','Lrrc4b','Nlgn3','Abca1','Slc4a7','Agrn','Lrrc8a','Sstr2','Itgav'], datum.g) >= 0"}],
  "mark":{"type":"text","align":"right","baseline":"middle","fontSize":13,"color":"#1a1a1a"},
  "encoding":{"x":{"field":"ilx","type":"quantitative","scale":{"domain":[0.131,0.813],"range":[600,1088]},"axis":null},
   "y":{"field":"ily","type":"quantitative","scale":{"domain":[1.301,2.6525],"range":[355,15]},"axis":null},"text":{"field":"g"}}},
 {"data":{"name":"genes"},"transform":[{"filter":"isValid(datum.ilx) && indexof(['Pcdh19','Nptn','Lphn2','Atp1b1','Astn1','Cnnm4','Fat4','Nrp1','Cadm1','Nlgn2','Cnnm3','Plxnb2','Alcam','Ptprd','Adam15'], datum.g) >= 0"}],
  "mark":{"type":"text","align":"center","baseline":"bottom","fontSize":13,"color":"#1a1a1a"},
  "encoding":{"x":{"field":"ilx","type":"quantitative","scale":{"domain":[0.131,0.813],"range":[600,1088]},"axis":null},
   "y":{"field":"ily","type":"quantitative","scale":{"domain":[1.301,2.6525],"range":[355,15]},"axis":null},"text":{"field":"g"}}},
 {"data":{"name":"genes"},"transform":[{"filter":"isValid(datum.ilx) && indexof(['Slc4a3','Lingo1','Lrp8','Tpbg','Nlgn1','Thy1','Brinp2','Slc44a2','Mfap3','Plxnb1'], datum.g) >= 0"}],
  "mark":{"type":"text","align":"center","baseline":"top","fontSize":13,"color":"#1a1a1a"},
  "encoding":{"x":{"field":"ilx","type":"quantitative","scale":{"domain":[0.131,0.813],"range":[600,1088]},"axis":null},
   "y":{"field":"ily","type":"quantitative","scale":{"domain":[1.301,2.6525],"range":[355,15]},"axis":null},"text":{"field":"g"}}}
],
"resolve":{"scale":{"x":"independent","y":"independent"},"axis":{"x":"independent","y":"independent"}}
}
